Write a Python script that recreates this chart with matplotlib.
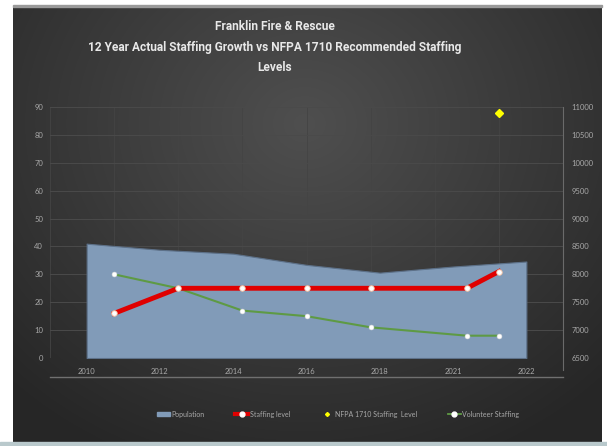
#!/usr/bin/env python3
"""Franklin Fire & Rescue staffing chart (dark Excel style)."""

import numpy as np
import matplotlib
matplotlib.use("Agg")
import matplotlib.pyplot as plt
from matplotlib.lines import Line2D
from matplotlib.patches import Patch, Rectangle

# category axis (population area)
pop_years = ["2010", "2012", "2014", "2016", "2018", "2021", "2022"]
population = [8550, 8440, 8370, 8170, 8030, 8140, 8230]

# year axis (staffing lines)
staff_years = [2011, 2013, 2015, 2017, 2019, 2022, 2023]
staffing_level = [16, 25, 25, 25, 25, 25, 31]
volunteer_staffing = [30, 25, 17, 15, 11, 8, 8]
nfpa_years = [2023]
nfpa_level = [88]

W, H = 607, 446
TXT = "#a8a8a8"
GRID = "#444444"

plt.rcParams["font.family"] = ["Lato", "DejaVu Sans"]

fig = plt.figure(figsize=(W / 100, H / 100), dpi=100)
fig.patch.set_facecolor("white")

# background panel with a soft radial gradient
bg = fig.add_axes([0, 0, 1, 1], zorder=0)
bg.set_xlim(0, W)
bg.set_ylim(H, 0)
bg.axis("off")
yy, xx = np.mgrid[0:H, 0:W]
r = np.sqrt(((xx - 300) / 380.0) ** 2 + ((yy - 120) / 330.0) ** 2)
shade = np.clip(0.31 - 0.14 * r, 0.15, 0.31)
bg.imshow(np.dstack([shade] * 3), extent=(13, 602, 442, 6), zorder=1)
bg.add_patch(Rectangle((0, 442), W, 4, color="#b9c9cc", zorder=2))
bg.add_patch(Rectangle((13, 5), 589, 1.5, color="#9a9a9a", zorder=2))

rect = [50 / W, 1 - 358 / H, 513 / W, 251 / H]

# back axis: grid + left labels
ax_back = fig.add_axes(rect, zorder=1)
ax_back.set_facecolor("none")
ax_back.set_xlim(2009, 2025)
ax_back.set_ylim(0, 90)
ax_back.set_yticks(range(0, 91, 10))
ax_back.set_xticks(range(2009, 2026, 2))
ax_back.tick_params(axis="y", length=0, pad=5, labelsize=5.5, labelcolor=TXT)
ax_back.tick_params(axis="x", length=0, labelbottom=False)
ax_back.grid(True, axis="y", color="#4a4a4a", linewidth=0.7)
ax_back.grid(True, axis="x", color=GRID, linewidth=0.6)
for s in ax_back.spines.values():
    s.set_visible(False)

# population area
ax_pop = fig.add_axes(rect, zorder=2)
ax_pop.set_facecolor("none")
x_cat = np.arange(len(pop_years))
ax_pop.fill_between(x_cat, 6500, population, color="#819bb8",
                    edgecolor="#5d7189", linewidth=0.8, label="Population")
ax_pop.set_xlim(-0.5, len(pop_years) - 0.5)
ax_pop.set_ylim(6500, 11000)
ax_pop.set_xticks(x_cat)
ax_pop.set_xticklabels(pop_years)
ax_pop.set_yticks(range(6500, 11001, 500))
ax_pop.yaxis.tick_right()
ax_pop.tick_params(axis="y", length=0, pad=6, labelsize=5.5, labelcolor=TXT)
ax_pop.tick_params(axis="x", length=0, pad=7, labelsize=5.5, labelcolor=TXT)
for name, s in ax_pop.spines.items():
    s.set_visible(name == "right")
ax_pop.spines["right"].set_color("#6a6a6a")
ax_pop.spines["right"].set_bounds(6500 - 220, 11000)

# staffing lines
ax_line = fig.add_axes(rect, zorder=3)
ax_line.set_facecolor("none")
ax_line.set_xlim(2009, 2025)
ax_line.set_ylim(0, 90)
ax_line.axis("off")
ax_line.plot(staff_years, volunteer_staffing, color="#5e9a44", linewidth=1.5,
             marker="o", markersize=3.5, markerfacecolor="white",
             markeredgecolor="#dddddd", markeredgewidth=0.4)
ax_line.plot(staff_years, staffing_level, color="#e00000", linewidth=3.5,
             marker="o", markersize=4, markerfacecolor="white",
             markeredgecolor="#f3c0a0", markeredgewidth=0.6)
ax_line.plot(nfpa_years, nfpa_level, linestyle="none", marker="D",
             markersize=4, color="#ffff00")

# bottom axis line
fig.add_artist(Line2D([50 / W, 563 / W], [1 - 377 / H] * 2,
                      color="#707070", linewidth=1.0))

fig.text(275 / W, 1 - 47 / H,
         "Franklin Fire & Rescue\n12 Year Actual Staffing Growth vs NFPA 1710 Recommended Staffing\nLevels",
         ha="center", va="center", color="#e8e8e8", fontsize=8.6,
         family=["Roboto", "DejaVu Sans"], fontweight="bold", linespacing=1.75)

handles = [
    Patch(facecolor="#819bb8", edgecolor="#819bb8"),
    Line2D([], [], color="#e00000", linewidth=3, marker="o", markersize=3.5,
           markerfacecolor="white", markeredgecolor="white"),
    Line2D([], [], linestyle="none", marker="D", markersize=2, color="#ffff00"),
    Line2D([], [], color="#5e9a44", linewidth=1.3, marker="o", markersize=3.5,
           markerfacecolor="white", markeredgecolor="white"),
]
labels = ["Population", "Staffing level", "NFPA 1710 Staffing  Level",
          "Volunteer Staffing"]
leg = fig.legend(handles, labels, loc="center",
                 bbox_to_anchor=(338 / W, 1 - 414 / H), ncol=4, frameon=False,
                 fontsize=5, labelcolor=TXT, columnspacing=4.4,
                 handlelength=1.9, handletextpad=0.2, handleheight=0.6)

fig.savefig("out.png", dpi=100, facecolor=fig.get_facecolor())
